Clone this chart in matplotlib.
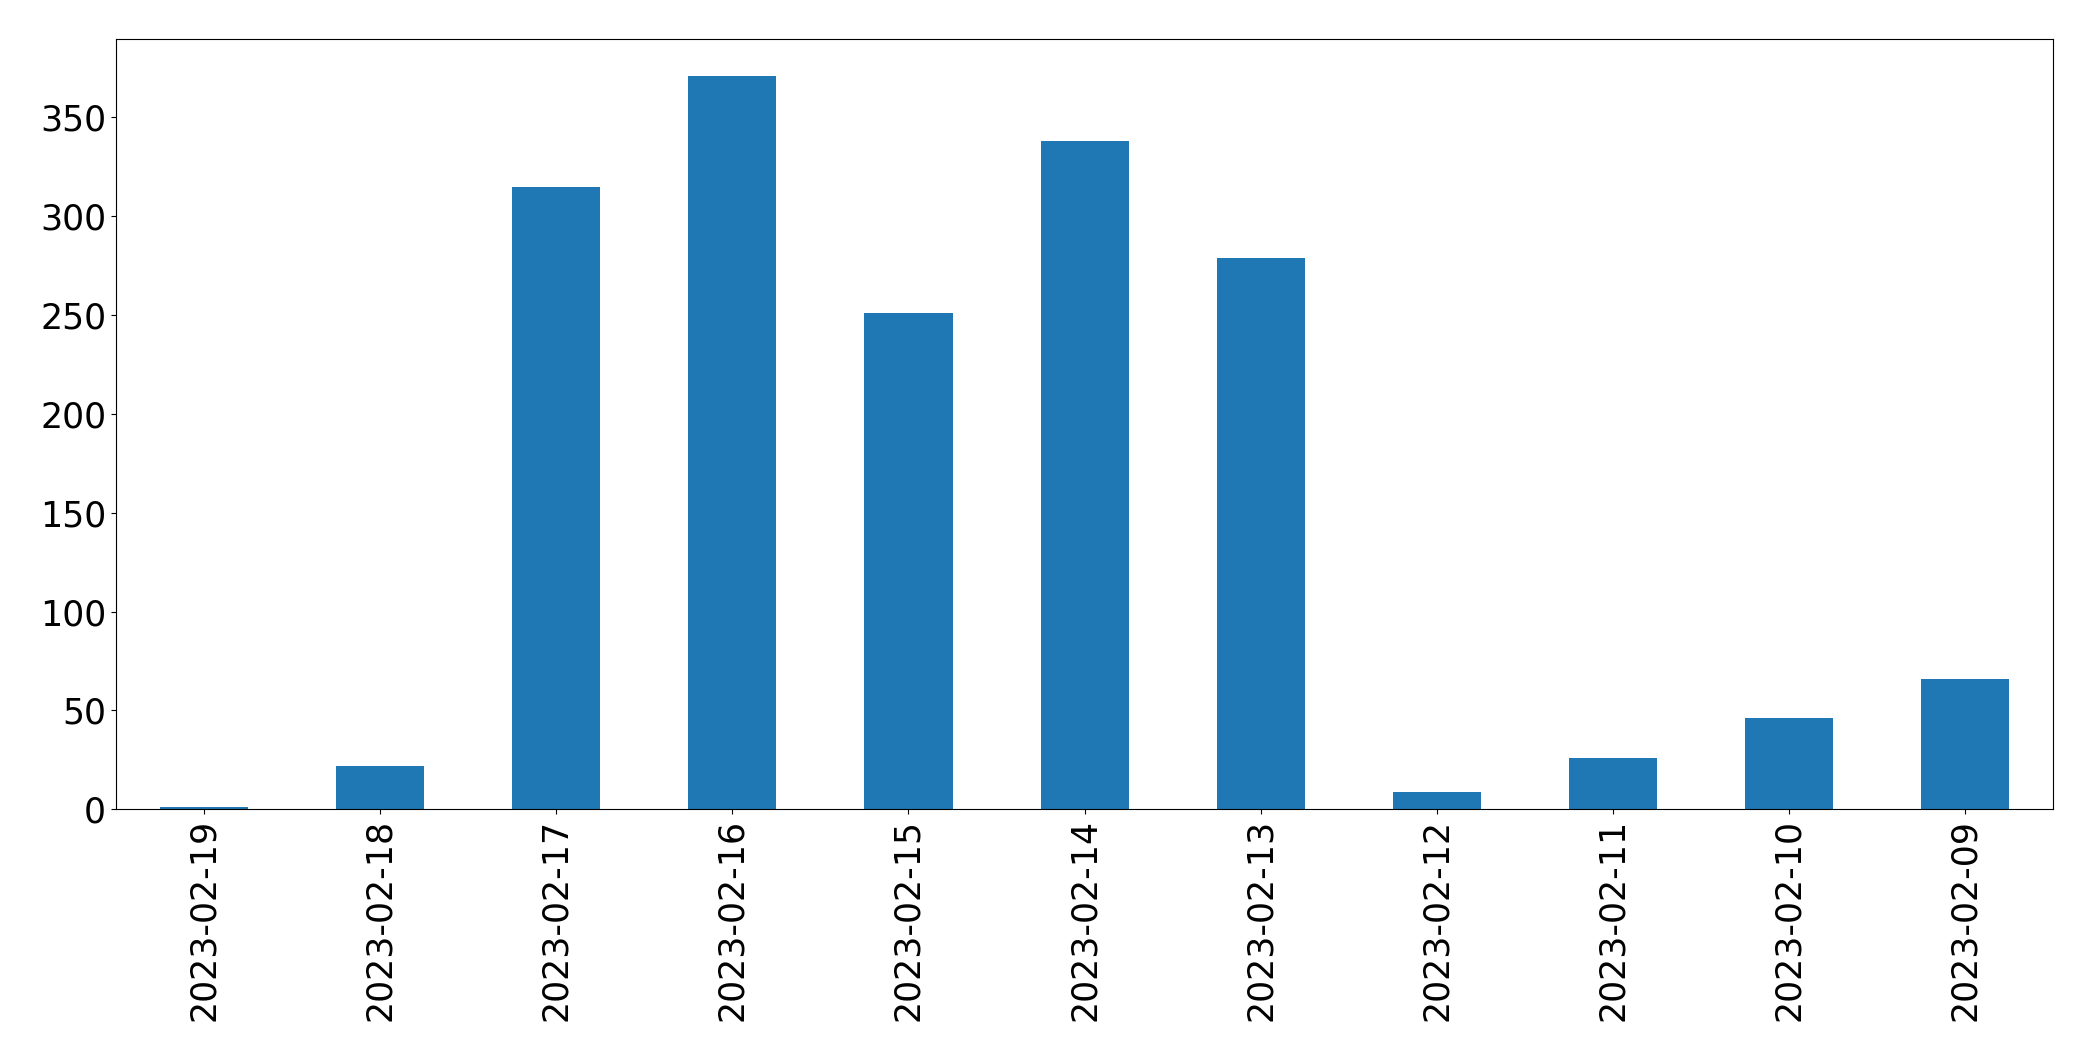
import matplotlib
matplotlib.use("Agg")
import matplotlib.pyplot as plt

# 每日数量
dates = ["2023-02-19", "2023-02-18", "2023-02-17", "2023-02-16", "2023-02-15",
         "2023-02-14", "2023-02-13", "2023-02-12", "2023-02-11", "2023-02-10",
         "2023-02-09"]
counts = [1, 22, 315, 371, 251, 338, 279, 9, 26, 46, 66]

fig = plt.figure(figsize=(20.93, 10.61), dpi=100)
ax = fig.add_axes([0.0554, 0.2372, 0.9256, 0.7258])

x = list(range(len(dates)))
ax.bar(x, counts, width=0.5, color="#1f77b4")
ax.set_xlim(-0.5, len(dates) - 0.5)
ax.set_xticks(x)
ax.set_xticklabels(dates, rotation=90)
ax.tick_params(axis="both", labelsize=25)

fig.savefig("out.png", dpi=100)
